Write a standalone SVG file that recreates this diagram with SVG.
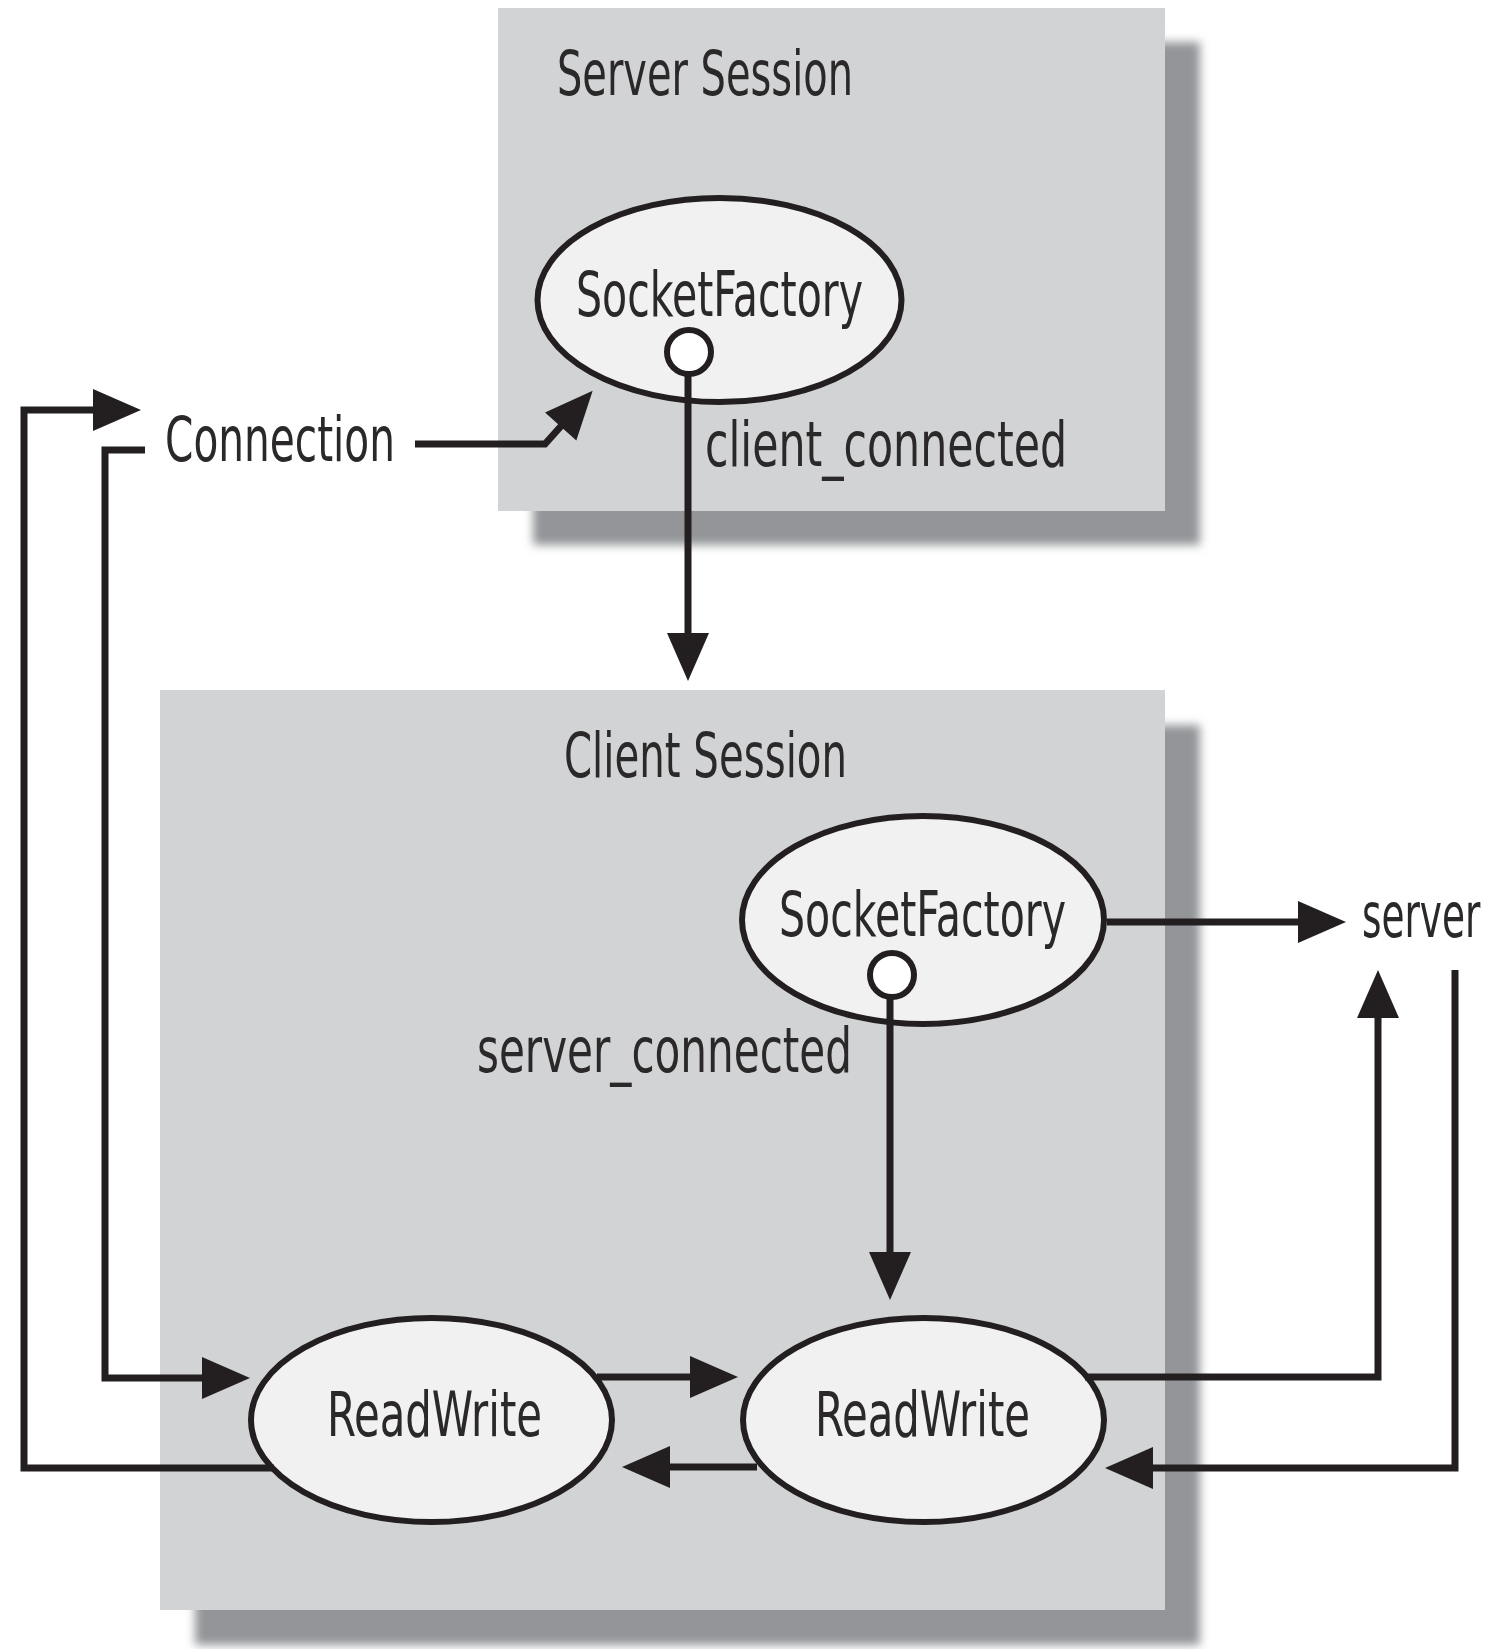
<svg xmlns="http://www.w3.org/2000/svg" width="1494" height="1649" viewBox="0 0 1494 1649">
<style>
.box{fill:#d1d3d4}
.shadow{fill:#939598;filter:url(#blur)}
.node{fill:#f1f1f2;stroke:#231f20;stroke-width:6}
.port{fill:#ffffff;stroke:#231f20;stroke-width:6}
.lbl{font-family:"Liberation Sans Narrow","DejaVu Sans Condensed","Liberation Sans",sans-serif;font-size:63px;fill:#2b2829}
.conn{fill:none;stroke:#231f20;stroke-width:7;marker-end:url(#ah)}
</style>
<defs>
<filter id="blur" x="-5%" y="-5%" width="110%" height="110%"><feGaussianBlur stdDeviation="5"/></filter>
<marker id="ah" markerUnits="userSpaceOnUse" markerWidth="52" markerHeight="44" refX="2" refY="21" orient="auto" overflow="visible"><path d="M0,0 L48,21 L0,42 z" fill="#231f20"/></marker>
</defs>
<rect width="1494" height="1649" fill="#ffffff"/>
<g id="server-session">
<rect class="shadow" x="533" y="42" width="667" height="503"/>
<rect class="box" x="498" y="8" width="667" height="503"/>
<text class="lbl" x="557" y="95" textLength="296" lengthAdjust="spacingAndGlyphs">Server Session</text>
</g>
<g id="client-session">
<rect class="shadow" x="195" y="725" width="1005" height="920"/>
<rect class="box" x="160" y="690" width="1005" height="920"/>
<text class="lbl" x="564" y="777" textLength="283" lengthAdjust="spacingAndGlyphs">Client Session</text>
</g>
<g id="server-socketfactory">
<ellipse class="node" cx="719.5" cy="300" rx="182" ry="102"/>
<text class="lbl" x="576" y="316" textLength="287" lengthAdjust="spacingAndGlyphs">SocketFactory</text>
<circle class="port" cx="689" cy="352" r="22"/>
</g>
<g id="client-socketfactory">
<ellipse class="node" cx="923" cy="920" rx="181" ry="104"/>
<text class="lbl" x="779" y="936" textLength="287" lengthAdjust="spacingAndGlyphs">SocketFactory</text>
<circle class="port" cx="892" cy="975" r="22"/>
</g>
<g id="readwrite-left">
<ellipse class="node" cx="431.5" cy="1420" rx="180.5" ry="102"/>
<text class="lbl" x="327" y="1436" textLength="215" lengthAdjust="spacingAndGlyphs">ReadWrite</text>
</g>
<g id="readwrite-right">
<ellipse class="node" cx="923.5" cy="1420" rx="180.5" ry="102"/>
<text class="lbl" x="815" y="1436" textLength="215" lengthAdjust="spacingAndGlyphs">ReadWrite</text>
</g>
<g id="connectors">
<path class="conn" d="M688,374 V635"/>
<path class="conn" d="M890,997 V1254"/>
<path class="conn" d="M415,444 H545 L562,425"/>
<path class="conn" d="M274,1468 H24 V410 H95"/>
<path class="conn" d="M145,450 H105 V1378 H204"/>
<path class="conn" d="M597,1377 H692"/>
<path class="conn" d="M757,1467 H668"/>
<path class="conn" d="M1107,922 H1300"/>
<path class="conn" d="M1085,1377 H1378 V1016"/>
<path class="conn" d="M1455,970 V1468 H1151"/>
</g>
<g id="labels">
<text class="lbl" x="165" y="461" textLength="230" lengthAdjust="spacingAndGlyphs">Connection</text>
<text class="lbl" x="705" y="466" textLength="362" lengthAdjust="spacingAndGlyphs">client_connected</text>
<text class="lbl" x="477" y="1072" textLength="375" lengthAdjust="spacingAndGlyphs">server_connected</text>
<text class="lbl" transform="translate(1362,937) scale(0.66,1)" x="0" y="0">server</text>
</g>
</svg>
